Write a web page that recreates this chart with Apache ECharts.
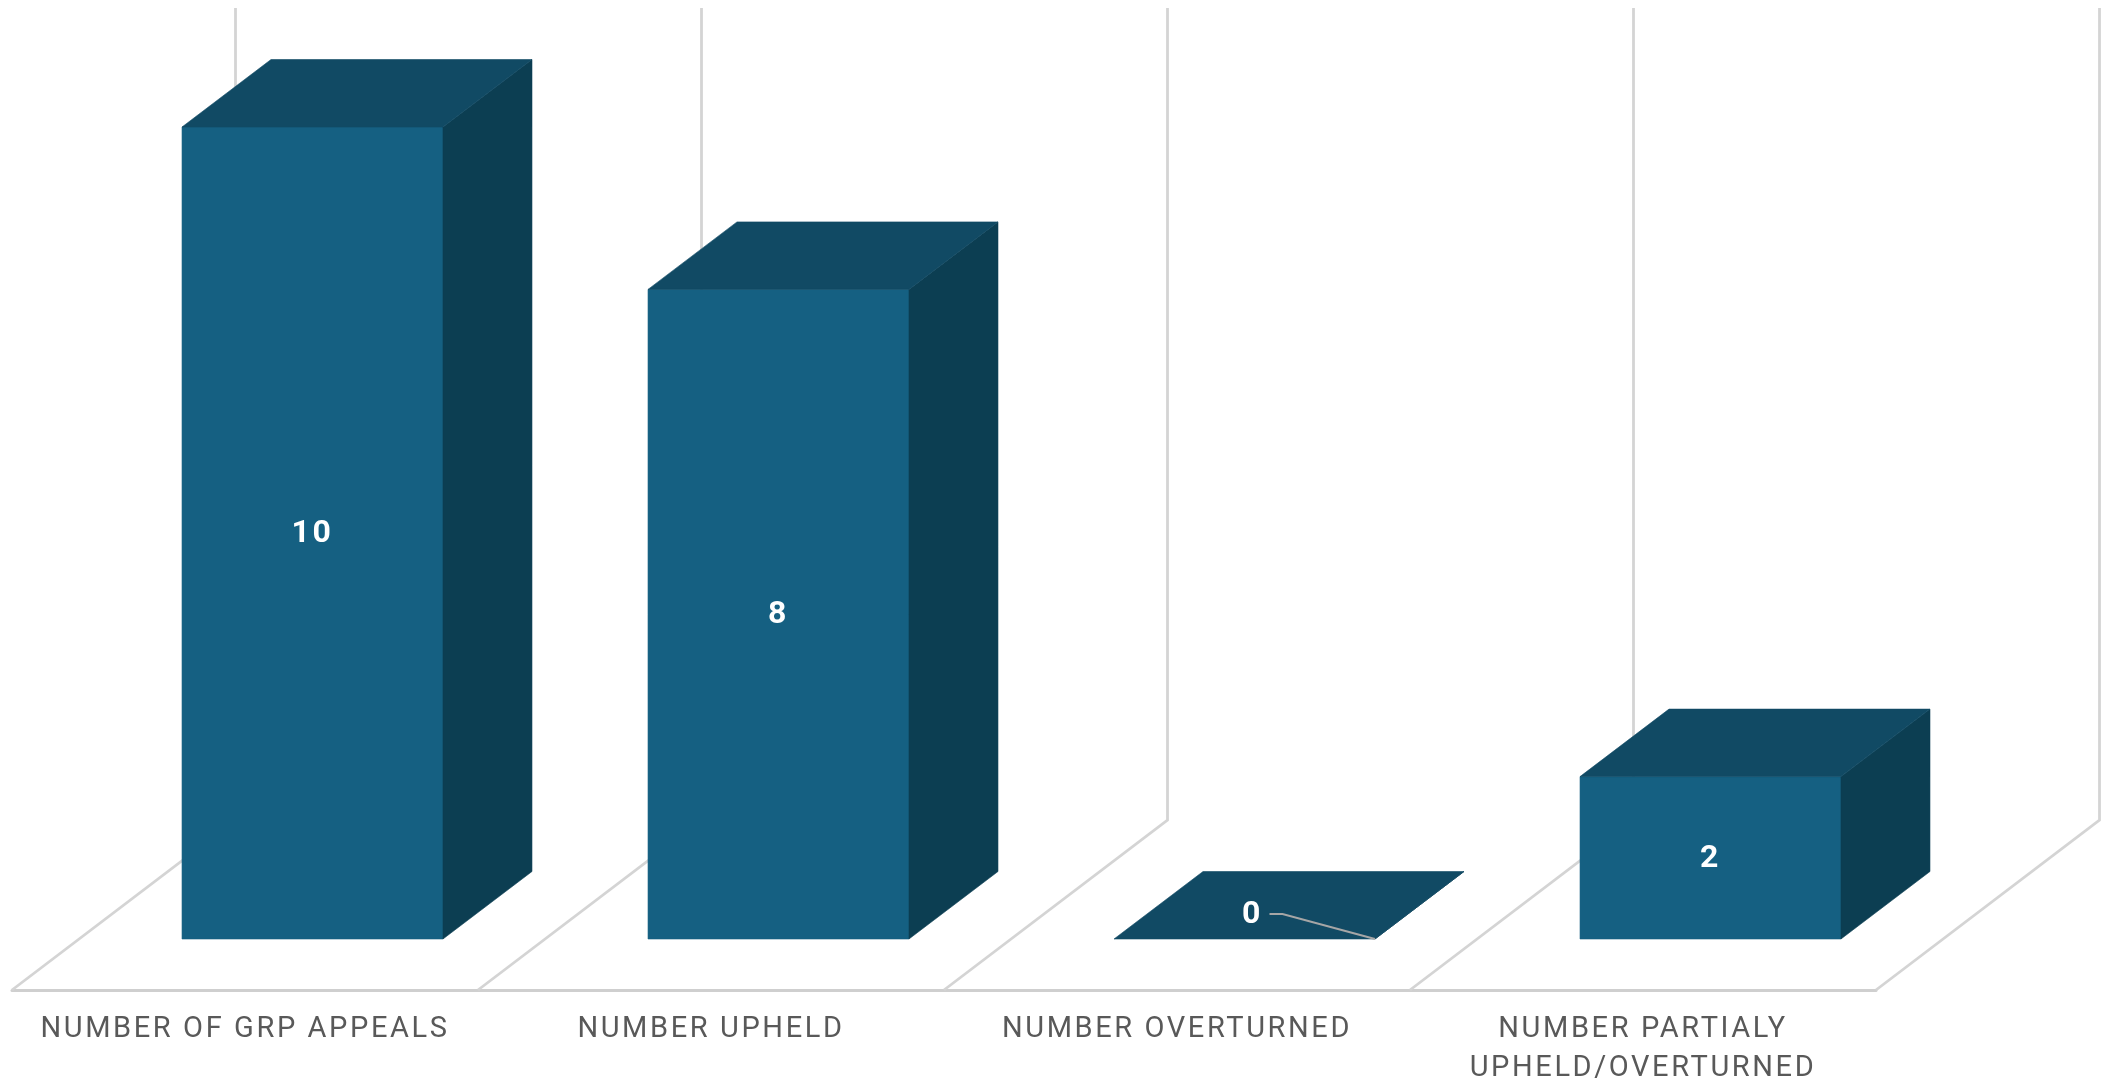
<!DOCTYPE html>
<html><head><meta charset="utf-8">
<style>html,body{margin:0;padding:0;background:#fff}#c{width:2101px;height:1083px}</style>
<script src="https://cdn.jsdelivr.net/npm/echarts@6/dist/echarts.min.js"></script>
</head><body><div id="c"></div>
<script>
const categories = ['NUMBER OF GRP APPEALS','NUMBER UPHELD','NUMBER OVERTURNED','NUMBER PARTIALY\nUPHELD/OVERTURNED'];
const values = [10,8,0,2];
const FLOOR_DX = 223.5, FLOOR_DY = -170;
const NEAR_DX = 67.5, NEAR_DY = -51, BAR_DX = 89, BAR_DY = -67.5, BAR_RATIO = 0.56;
const FRONT='#156082', TOP='#114A64', SIDE='#0C3E52', WALL='#D4D4D4';
// Letter-spaced text, as in the reference's category labels
const nativeGetContext = HTMLCanvasElement.prototype.getContext;
HTMLCanvasElement.prototype.getContext = function(type, opts){
  const ctx = nativeGetContext.call(this, type, opts);
  if (type === '2d' && ctx) ctx.letterSpacing = '2.6px';
  return ctx;
};
const chart = echarts.init(document.getElementById('c'), null, {renderer:'canvas', width:2101, height:1083});
function poly(points, fill){ return {type:'polygon', shape:{points}, style:{fill, stroke:fill, lineWidth:0.6}}; }
function line(points, stroke, width){ return {type:'polyline', shape:{points}, style:{stroke, lineWidth:width, fill:null}}; }
function renderWalls(params, api){
  const i = api.value(0), band = api.size([1,0])[0];
  const children = [];
  const bottom = api.coord([i,0]), top = api.coord([i,10]);
  const bounds = i === categories.length-1 ? [-band/2, band/2] : [-band/2];
  bounds.forEach(off=>{
    const x = bottom[0]+off;
    children.push(line([[x,bottom[1]],[x+FLOOR_DX,bottom[1]+FLOOR_DY],[x+FLOOR_DX,top[1]+FLOOR_DY]], WALL, 2.8));
  });
  return {type:'group', children};
}
function renderBars(params, api){
  const i = api.value(0), v = api.value(1), band = api.size([1,0])[0], w = band*BAR_RATIO;
  const base = api.coord([i,0]), head = api.coord([i,v]);
  const l = base[0]+NEAR_DX-w/2, r = l+w, b = base[1]+NEAR_DY, t = head[1]+NEAR_DY;
  const dx = BAR_DX, dy = BAR_DY;
  const children = [
    poly([[r,b],[r+dx,b+dy],[r+dx,t+dy],[r,t]], SIDE),
    poly([[l,t],[l+dx,t+dy],[r+dx,t+dy],[r,t]], TOP)
  ];
  if (t < b) children.unshift(poly([[l,b],[r,b],[r,t],[l,t]], FRONT));
  const cx = (l+r)/2, cy = (t+b)/2;
  const zero = v === 0;
  const lx = zero ? cx+8 : cx, ly = zero ? b-25 : cy;
  if (zero) children.push(line([[lx+17,ly],[lx+30,ly],[r,b]], '#A6A6A6', 2));
  children.push({type:'text', style:{text:String(v), x:lx, y:Math.round(ly+1), align:'center', verticalAlign:'middle',
    fill:'#fff', font:'bold 32px Roboto'}});
  return {type:'group', children};
}
chart.setOption({
  animation:false,
  backgroundColor:'#fff',
  grid:{left:12, width:1864, top:178, height:812, outerBoundsMode:'none'},
  xAxis:{type:'category', data:categories,
    axisLine:{lineStyle:{color:'#CFCFCF', width:3}}, axisTick:{show:false},
    axisLabel:{interval:0, margin:20, fontFamily:'Roboto', fontSize:29, lineHeight:39, color:'#595959'}, splitLine:{show:false}},
  yAxis:{type:'value', min:0, max:10, show:false, splitLine:{show:false}},
  series:[
    {type:'custom', name:'walls', z:1, silent:true, renderItem:renderWalls, data:categories.map((c,i)=>[i,0]), encode:{x:0,y:1}},
    {type:'custom', name:'bars', z:2, renderItem:renderBars, data:values.map((v,i)=>[i,v]), encode:{x:0,y:1}}
  ]
});
</script></body></html>
